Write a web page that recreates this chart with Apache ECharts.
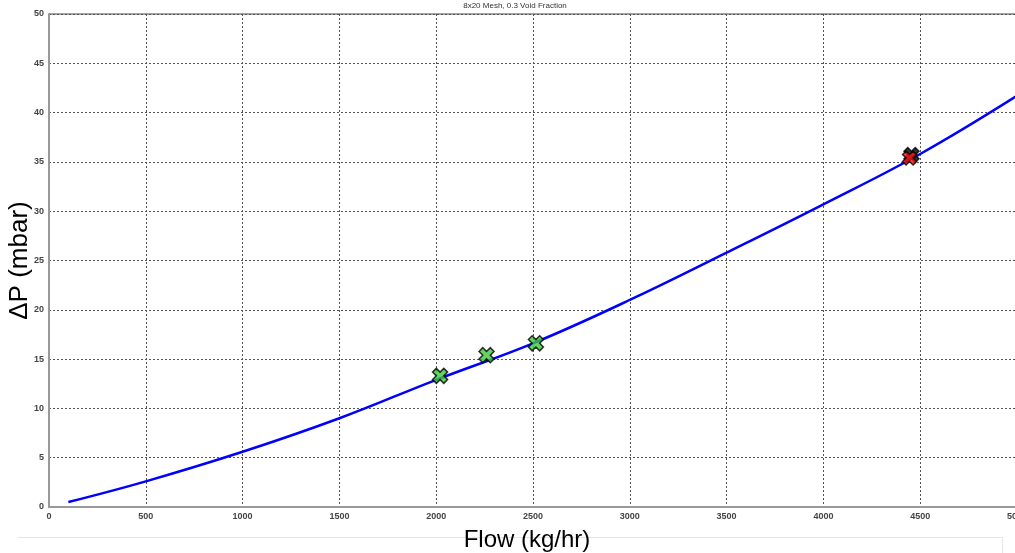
<!DOCTYPE html>
<html><head><meta charset="utf-8">
<script src="https://cdn.jsdelivr.net/npm/echarts@6/dist/echarts.min.js"></script>
<style>html,body{margin:0;padding:0;background:#fff}#c{width:1015px;height:553px}</style>
</head><body><div id="c"></div>
<script>
const curveFlow = [100, 500, 1000, 1500, 2000, 2500, 3000, 3500, 4000, 4500, 5000];
const curveDP   = [0.5, 2.6, 5.6, 9.0, 12.9, 16.6, 21.0, 25.8, 30.7, 35.8, 41.7];
const greenFlow = [2020, 2260, 2515];
const greenDP   = [13.3, 15.4, 16.6];
const redFlowBack = [4455];
const redDPBack   = [35.7];
const redFlow = [4445];
const redDP   = [35.4];
const titleText = '8x20 Mesh, 0.3 Void Fraction';
const xName = 'Flow (kg/hr)';
const yName = 'ΔP (mbar)';

const X = 'path://M0,2.5 L2.5,0 L5,2.5 L7.5,0 L10,2.5 L7.5,5 L10,7.5 L7.5,10 L5,7.5 L2.5,10 L0,7.5 L2.5,5 Z';
const zip = (a, b) => a.map((v, i) => [v, b[i]]);
const font = 'Liberation Sans, Arial, sans-serif';

const chart = echarts.init(document.getElementById('c'));
chart.setOption({
  animation: false,
  title: { text: titleText, left: 510, textAlign: 'center', top: -3,
    textStyle: { fontSize: 8, fontWeight: 'normal', color: '#333', fontFamily: font } },
  grid: { left: 49, top: 14, width: 968, height: 493, containLabel: false, outerBoundsMode: 'none',
    show: true, borderColor: '#444', borderWidth: 1 },
  xAxis: {
    type: 'value', min: 0, max: 5000, interval: 500,
    name: xName, nameLocation: 'middle', nameGap: 21, nameMoveOverlap: false,
    nameTextStyle: { fontSize: 24, color: '#000', fontFamily: font, padding: [0, 12, 0, 0] },
    axisLine: { show: true, lineStyle: { color: '#999', width: 2 } },
    axisTick: { show: false },
    axisLabel: { fontSize: 9, color: '#444', fontFamily: font, margin: 5, fontWeight: 'bold',
      formatter: v => String(v) },
    splitLine: { show: true, lineStyle: { color: '#555', type: [2, 2], width: 1 } }
  },
  yAxis: {
    type: 'value', min: 0, max: 50, interval: 5,
    name: yName, nameLocation: 'middle', nameGap: 16, nameMoveOverlap: false,
    nameTextStyle: { fontSize: 26, color: '#000', fontFamily: font },
    axisLine: { show: true, lineStyle: { color: '#999', width: 2 } },
    axisTick: { show: false },
    axisLabel: { fontSize: 9, color: '#444', fontFamily: font, margin: 5, fontWeight: 'bold',
      formatter: v => String(v) },
    splitLine: { show: true, lineStyle: { color: '#555', type: [2, 2], width: 1 } }
  },
  series: [
    { type: 'line', data: zip(curveFlow, curveDP), smooth: 0.4, showSymbol: false,
      lineStyle: { color: '#0000ff', width: 2.5 }, z: 2 },
    { type: 'scatter', data: zip(greenFlow, greenDP), symbol: X, symbolSize: 15,
      itemStyle: { color: '#3cc83c', borderColor: '#000', borderWidth: 1.5 }, z: 3 },
    { type: 'scatter', data: zip(redFlowBack, redDPBack), symbol: X, symbolSize: 15,
      itemStyle: { color: '#000', borderColor: '#000', borderWidth: 1.5 }, z: 3 },
    { type: 'scatter', data: zip(redFlow, redDP), symbol: X, symbolSize: 14,
      itemStyle: { color: '#ff1010', borderColor: '#000', borderWidth: 1.5 }, z: 4 }
  ],
  graphic: [
    { type: 'line', shape: { x1: 18, y1: 537.5, x2: 1002, y2: 537.5 }, style: { stroke: '#e6e6e6', lineWidth: 1 }, z: -1 },
    { type: 'line', shape: { x1: 1002.5, y1: 537, x2: 1002.5, y2: 553 }, style: { stroke: '#e6e6e6', lineWidth: 1 }, z: -1 }
  ]
});
</script></body></html>
